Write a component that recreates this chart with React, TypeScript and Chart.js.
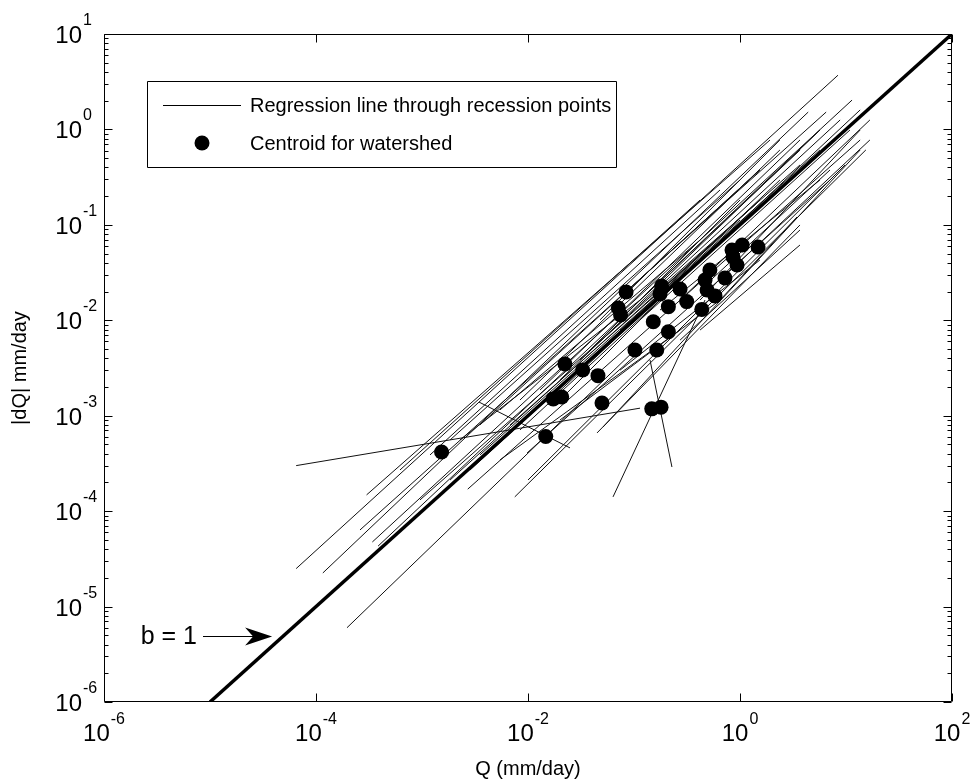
import React, { useEffect, useRef } from "react";
import { Chart, registerables } from "chart.js";

Chart.register(...registerables);

// ---- Data: regression lines through recession points (endpoints, mm/day) ----
const lineQStart = [
  6.5e-5, 6.5e-5, 1.16e-4, 3.0e-4, 2.6e-4, 3.4e-4, 3.85e-4, 1.96e-4, 2.7e-3, 7.5e-3,
  3.45e-3, 0.0634, 0.1416, 9.8e-3, 0.01, 0.0448, 0.051, 6.2e-4, 1.19e-3, 1.84e-3,
  3.52e-3, 5.44e-3, 8.4e-3, 0.013, 0.02, 0.031, 0.0478, 0.0738, 0.114, 0.176,
  0.272, 0.42, 0.648, 0.272, 0.42, 0.648, 0.0738, 0.02, 5.44e-3, 0.084,
  9.57e-4, 1.84e-3, 3.52e-3, 6.77e-3, 0.0161, 2.84e-3, 0.02, 0.0385, 0.114, 0.0478,
  0.1416, 8.4e-3, 2.28e-3, 0.42,
];
const lineDQStart = [
  3.0e-4, 2.5e-5, 2.25e-5, 1.48e-4, 6.35e-5, 4.75e-5, 4.3e-5, 6.0e-6, 1.7e-4, 1.41e-4,
  1.39e-3, 1.41e-4, 3.84e-3, 4.07e-4, 2.12e-4, 6.6e-4, 7.6e-4, 2.7e-4, 3.88e-4, 5.57e-4,
  8.0e-4, 1.15e-3, 1.46e-3, 1.86e-3, 2.37e-3, 3.84e-3, 4.88e-3, 7.9e-3, 0.0101, 0.0128,
  0.0163, 0.0208, 0.0264, 6.2e-3, 7.9e-3, 0.0163, 3.0e-3, 9.0e-4, 3.44e-4, 0.0198,
  1.31e-4, 2.12e-4, 3.88e-4, 7.99e-4, 1.46e-3, 2.7e-4, 1.46e-3, 4.88e-3, 0.0163, 0.0101,
  0.0163, 7.09e-4, 5.57e-4, 0.0163,
];
const lineQEnd = [
  0.114, 8.4, 4.4, 1.92, 6.5, 11.4, 3.7, 0.114, 13.6, 15.4,
  0.0249, 0.4675, 0.228, 7.07, 9.8, 3.68, 13.6, 0.42, 0.648, 1.0,
  1.54, 0.42, 2.38, 3.68, 5.68, 8.8, 2.38, 3.68, 10.9, 5.68,
  16.8, 7.07, 16.8, 3.68, 3.68, 3.45, 1.54, 0.648, 0.272, 1.54,
  3.68, 1.544, 5.68, 1.0, 13.6, 0.42, 0.338, 1.0, 5.68, 2.38,
  1.544, 0.176, 0.114, 13.6,
];
const lineDQEnd = [
  1.2e-3, 3.7, 1.52, 0.775, 1.52, 2.03, 0.61, 5.5e-3, 0.775, 0.61,
  4.6e-4, 0.0163, 2.9e-4, 0.295, 0.424, 0.0997, 0.609, 0.182, 0.232, 0.295,
  0.376, 0.0694, 0.609, 0.775, 0.986, 1.256, 0.295, 0.376, 0.986, 0.295,
  1.256, 0.376, 0.775, 0.0883, 0.0615, 0.121, 0.0428, 0.0163, 7.9e-3, 0.376,
  0.424, 0.182, 0.609, 0.1125, 1.6, 0.0428, 0.0336, 0.182, 0.986, 0.775,
  0.182, 0.0163, 0.0163, 0.986,
];

// ---- Data: centroid for each watershed ----
const centroidQ = [
  1.53e-3, 0.0147, 0.0173, 0.0208, 0.0223, 0.0328, 0.0457, 0.0499, 0.0711, 0.0747,
  0.0842, 0.102, 0.147, 0.18, 0.152, 0.164, 0.182, 0.176, 0.211, 0.211,
  0.272, 0.314, 0.436, 0.468, 0.489, 0.581, 0.721, 0.859, 0.841, 0.938,
  1.48, 1.05, 0.52,
];
const centroidDQ = [
  4.17e-4, 6.05e-4, 1.5e-3, 1.57e-3, 3.48e-3, 3.01e-3, 2.63e-3, 1.36e-3, 0.01345, 0.01136,
  0.01978, 4.88e-3, 1.18e-3, 1.23e-3, 9.66e-3, 4.88e-3, 0.0229, 0.0189, 0.0139, 7.59e-3,
  0.0213, 0.0157, 0.013, 0.0264, 0.0208, 0.018, 0.0277, 0.0461, 0.0545, 0.038,
  0.0586, 0.0615, 0.0336,
];

// ---- Data: reference line b = 1 ----
const refLineQ = [1e-5, 100];
const refLineDQ = [1e-6, 10];

// ---- Axis ticks / text ----
const xTickExponents = [-6, -4, -2, 0, 2];
const yTickExponents = [-6, -5, -4, -3, -2, -1, 0, 1];
const minorMultipliers = [2, 3, 4, 5, 6, 7, 8, 9];
const legendLabels = ["Regression line through recession points", "Centroid for watershed"];
const xTitle = "Q (mm/day)";
const yTitle = "|dQ| mm/day";
const refLabel = "b = 1";
const refArrowDQ = 4.9e-6;
const refArrowQ = 5e-5;

const FONT = "'Liberation Sans', Arial, Helvetica, sans-serif";

const decorPlugin = {
  id: "decor",
  afterDatasetsDraw(chart: any) {
    const { ctx, chartArea: ca, scales } = chart;
    const xs = scales.x;
    const ys = scales.y;
    ctx.save();
    ctx.strokeStyle = "#000";
    ctx.fillStyle = "#000";
    ctx.lineWidth = 1;

    const L = Math.round(ca.left) + 0.5;
    const R = Math.round(ca.right) - 0.5;
    const T = Math.round(ca.top) + 0.5;
    const B = Math.round(ca.bottom) - 0.5;

    // frame
    ctx.beginPath();
    ctx.rect(L, T, R - L, B - T);
    ctx.stroke();

    // y ticks (major + minor), left and right
    ctx.beginPath();
    yTickExponents.forEach((e) => {
      const y = Math.round(ys.getPixelForValue(Math.pow(10, e))) + 0.5;
      ctx.moveTo(L, y); ctx.lineTo(L + 8, y);
      ctx.moveTo(R, y); ctx.lineTo(R - 8, y);
      if (e < yTickExponents[yTickExponents.length - 1]) {
        minorMultipliers.forEach((m) => {
          const ym = Math.round(ys.getPixelForValue(m * Math.pow(10, e))) + 0.5;
          ctx.moveTo(L, ym); ctx.lineTo(L + 4, ym);
          ctx.moveTo(R, ym); ctx.lineTo(R - 4, ym);
        });
      }
    });
    // x ticks, bottom and top
    xTickExponents.forEach((e) => {
      const x = Math.round(xs.getPixelForValue(Math.pow(10, e))) + 0.5;
      ctx.moveTo(x, B); ctx.lineTo(x, B - 8);
      ctx.moveTo(x, T); ctx.lineTo(x, T + 8);
    });
    ctx.stroke();

    // y tick labels
    yTickExponents.forEach((e) => {
      const y = ys.getPixelForValue(Math.pow(10, e));
      ctx.font = `24px ${FONT}`;
      ctx.textAlign = "right";
      ctx.textBaseline = "alphabetic";
      ctx.fillText("10", ca.left - 22, y + 9);
      ctx.font = `16px ${FONT}`;
      ctx.textAlign = "left";
      ctx.fillText(String(e), ca.left - 21, y - 9);
    });
    // x tick labels
    xTickExponents.forEach((e) => {
      const x = xs.getPixelForValue(Math.pow(10, e));
      ctx.font = `24px ${FONT}`;
      const w1 = ctx.measureText("10").width;
      ctx.font = `16px ${FONT}`;
      const w2 = ctx.measureText(String(e)).width;
      const x0 = x - (w1 + w2 + 1) / 2;
      ctx.textAlign = "left";
      ctx.font = `24px ${FONT}`;
      ctx.fillText("10", x0, ca.bottom + 39);
      ctx.font = `16px ${FONT}`;
      ctx.fillText(String(e), x0 + w1 + 1, ca.bottom + 22);
    });

    // axis titles
    ctx.font = `20px ${FONT}`;
    ctx.textAlign = "center";
    ctx.fillText(xTitle, (ca.left + ca.right) / 2, ca.bottom + 73);
    ctx.save();
    ctx.translate(26, (ca.top + ca.bottom) / 2);
    ctx.rotate(-Math.PI / 2);
    ctx.fillText(yTitle, 0, 0);
    ctx.restore();

    // legend
    const lx = ca.left + 43;
    const ly = ca.top + 47;
    ctx.fillStyle = "#fff";
    ctx.fillRect(lx, ly, 469, 86);
    ctx.fillStyle = "#000";
    ctx.beginPath();
    ctx.rect(lx + 0.5, ly + 0.5, 469, 86);
    ctx.stroke();
    ctx.beginPath();
    ctx.lineWidth = 1;
    ctx.moveTo(lx + 16, ly + 24.5);
    ctx.lineTo(lx + 94, ly + 24.5);
    ctx.stroke();
    ctx.beginPath();
    ctx.arc(lx + 55, ly + 62, 7.5, 0, Math.PI * 2);
    ctx.fill();
    ctx.font = `20px ${FONT}`;
    ctx.textAlign = "left";
    ctx.fillText(legendLabels[0], lx + 103, ly + 31);
    ctx.fillText(legendLabels[1], lx + 103, ly + 69);

    // b = 1 annotation with arrow
    const ay = Math.round(ys.getPixelForValue(refArrowDQ)) + 0.5;
    const tipX = xs.getPixelForValue(refArrowQ) - 12;
    ctx.font = `25px ${FONT}`;
    ctx.textAlign = "right";
    ctx.fillText(refLabel, ca.left + 93, ay + 7);
    ctx.beginPath();
    ctx.lineWidth = 1;
    ctx.moveTo(ca.left + 99, ay);
    ctx.lineTo(tipX - 14, ay);
    ctx.stroke();
    ctx.beginPath();
    ctx.moveTo(tipX, ay);
    ctx.lineTo(tipX - 27, ay - 9);
    ctx.lineTo(tipX - 19, ay);
    ctx.lineTo(tipX - 27, ay + 9);
    ctx.closePath();
    ctx.fill();

    ctx.restore();
  },
};

export default function App() {
  const ref = useRef<HTMLCanvasElement | null>(null);

  useEffect(() => {
    if (!ref.current) return;
    const lineSets = lineQStart.map((q, i) => ({
      type: "scatter" as const,
      data: [
        { x: q, y: lineDQStart[i] },
        { x: lineQEnd[i], y: lineDQEnd[i] },
      ],
      showLine: true,
      borderColor: "#111",
      borderWidth: 1,
      pointRadius: 0,
      order: 3,
    }));
    const chart = new Chart(ref.current, {
      type: "scatter",
      data: {
        datasets: [
          {
            data: centroidQ.map((q, i) => ({ x: q, y: centroidDQ[i] })),
            pointRadius: 7.5,
            pointBorderWidth: 0,
            backgroundColor: "#000",
            borderColor: "#000",
            showLine: false,
            order: 1,
          },
          {
            data: refLineQ.map((q, i) => ({ x: q, y: refLineDQ[i] })),
            showLine: true,
            borderColor: "#000",
            borderWidth: 3.5,
            pointRadius: 0,
            order: 2,
          },
          ...lineSets,
        ],
      },
      options: {
        animation: false,
        responsive: false,
        devicePixelRatio: 1,
        events: [],
        layout: { padding: { left: 104, top: 34, right: 25, bottom: 78 } },
        scales: {
          x: { type: "logarithmic", min: 1e-6, max: 100, display: false },
          y: { type: "logarithmic", min: 1e-6, max: 10, display: false },
        },
        plugins: { legend: { display: false }, tooltip: { enabled: false } },
      },
      plugins: [decorPlugin],
    } as any);
    return () => chart.destroy();
  }, []);

  return (
    <div style={{ position: "absolute", left: 0, top: 0, width: 977, height: 780, background: "#fff" }}>
      <canvas ref={ref} width={977} height={780} style={{ display: "block", width: 977, height: 780 }} />
    </div>
  );
}
